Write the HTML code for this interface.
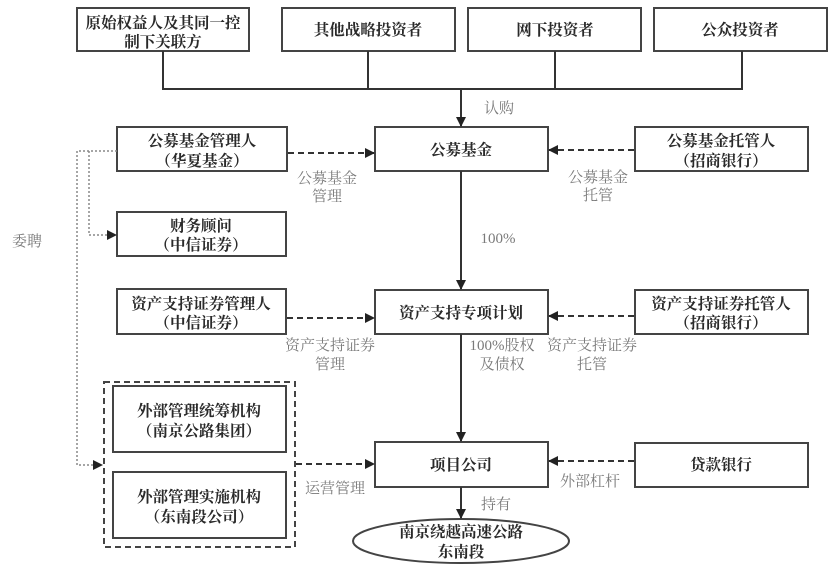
<!DOCTYPE html>
<html><head><meta charset="utf-8"><style>
html,body{margin:0;padding:0;background:#fff;}
svg{display:block;}
.b{font-family:"Liberation Serif","Noto Serif CJK SC",serif;font-size:15.5px;font-weight:700;fill:#2a2a2a;}
.l{font-family:"Liberation Serif","Noto Serif CJK SC",serif;font-size:15px;fill:#7a7a7a;}
</style></head><body>
<svg width="840" height="579" viewBox="0 0 840 579" xmlns="http://www.w3.org/2000/svg">
<defs>
<marker id="a" markerWidth="10" markerHeight="10" refX="9" refY="5" orient="auto" markerUnits="userSpaceOnUse">
<path d="M0,0 L10,5 L0,10 z" fill="#222"/></marker>
</defs>
<g fill="#fff" stroke="#444" stroke-width="2">
<rect x="77" y="8" width="172" height="43"/>
<rect x="282" y="8" width="173" height="43"/>
<rect x="468" y="8" width="173" height="43"/>
<rect x="654" y="8" width="173" height="43"/>
<rect x="117" y="127" width="170" height="44"/>
<rect x="375" y="127" width="173" height="44"/>
<rect x="635" y="127" width="173" height="44"/>
<rect x="117" y="212" width="169" height="44"/>
<rect x="117" y="289" width="169" height="45"/>
<rect x="375" y="290" width="173" height="44"/>
<rect x="635" y="290" width="173" height="44"/>
<rect x="113" y="386" width="173" height="66"/>
<rect x="113" y="472" width="173" height="66"/>
<rect x="375" y="442" width="173" height="45"/>
<rect x="635" y="443" width="173" height="44"/>
<ellipse cx="461" cy="541" rx="108" ry="22"/>
</g>
<rect x="104" y="382" width="191" height="165" fill="none" stroke="#444" stroke-width="2" stroke-dasharray="6,4"/>
<g fill="none" stroke="#333" stroke-width="2">
<path d="M163,51 V89 H742 V51"/>
<path d="M368,51 V89"/><path d="M555,51 V89"/>
<path d="M461,89 V126" marker-end="url(#a)"/>
<path d="M461,171 V289" marker-end="url(#a)"/>
<path d="M461,334 V441" marker-end="url(#a)"/>
<path d="M461,487 V518" marker-end="url(#a)"/>
</g>
<g fill="none" stroke="#333" stroke-width="2" stroke-dasharray="6,4">
<path d="M288,153 H374" marker-end="url(#a)"/>
<path d="M634,150 H549" marker-end="url(#a)"/>
<path d="M287,318 H374" marker-end="url(#a)"/>
<path d="M634,316 H549" marker-end="url(#a)"/>
<path d="M296,464 H374" marker-end="url(#a)"/>
<path d="M634,461 H549" marker-end="url(#a)"/>
</g>
<g fill="none" stroke="#888" stroke-width="1.5" stroke-dasharray="2,2">
<path d="M117,151 H77 V465 H102" marker-end="url(#a)"/>
<path d="M89,151 V235 H116" marker-end="url(#a)"/>
</g>
<g class="b" text-anchor="middle">
<text x="163" y="28">原始权益人及其同一控</text>
<text x="163" y="47">制下关联方</text>
<text x="368" y="35">其他战略投资者</text>
<text x="555" y="35">网下投资者</text>
<text x="740" y="35">公众投资者</text>
<text x="202" y="146">公募基金管理人</text>
<text x="202" y="166">（华夏基金）</text>
<text x="461" y="155">公募基金</text>
<text x="721" y="146">公募基金托管人</text>
<text x="721" y="166">（招商银行）</text>
<text x="201" y="231">财务顾问</text>
<text x="201" y="250">（中信证券）</text>
<text x="201" y="309">资产支持证券管理人</text>
<text x="201" y="328">（中信证券）</text>
<text x="461" y="318">资产支持专项计划</text>
<text x="721" y="309">资产支持证券托管人</text>
<text x="721" y="328">（招商银行）</text>
<text x="199" y="416">外部管理统筹机构</text>
<text x="199" y="436">（南京公路集团）</text>
<text x="199" y="502">外部管理实施机构</text>
<text x="199" y="522">（东南段公司）</text>
<text x="461" y="470">项目公司</text>
<text x="721" y="470">贷款银行</text>
<text x="461" y="537">南京绕越高速公路</text>
<text x="461" y="557">东南段</text>
</g>
<g class="l" text-anchor="middle">
<text x="499" y="113">认购</text>
<text x="327" y="183">公募基金</text>
<text x="327" y="201">管理</text>
<text x="598" y="182">公募基金</text>
<text x="598" y="200">托管</text>
<text x="27" y="246">委聘</text>
<text x="498" y="243">100%</text>
<text x="330" y="350">资产支持证券</text>
<text x="330" y="369">管理</text>
<text x="502" y="350">100%股权</text>
<text x="502" y="369">及债权</text>
<text x="592" y="350">资产支持证券</text>
<text x="592" y="369">托管</text>
<text x="335" y="493">运营管理</text>
<text x="590" y="486">外部杠杆</text>
<text x="496" y="509">持有</text>
</g>
</svg>
</body></html>
